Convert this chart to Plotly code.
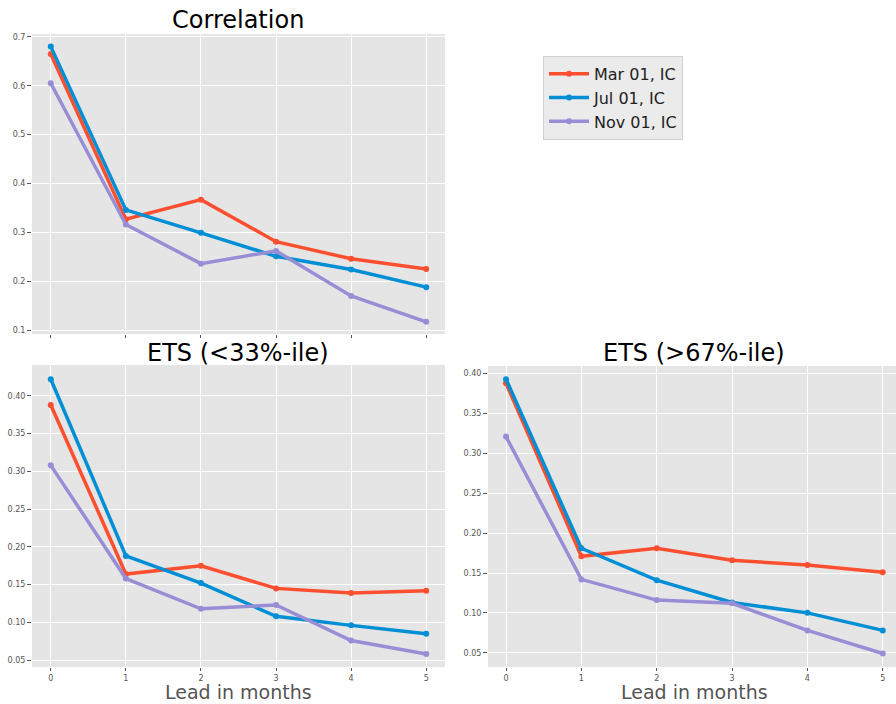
import plotly.graph_objects as go

leads = [0, 1, 2, 3, 4, 5]
series_names = ["Mar 01, IC", "Jul 01, IC", "Nov 01, IC"]
colors = ["#FC4F30", "#008FD5", "#988ED5"]

corr_mar = [0.665, 0.327, 0.367, 0.281, 0.246, 0.225]
corr_jul = [0.680, 0.346, 0.299, 0.251, 0.224, 0.188]
corr_nov = [0.605, 0.316, 0.236, 0.262, 0.170, 0.117]

ets_low_mar = [0.388, 0.164, 0.175, 0.145, 0.139, 0.142]
ets_low_jul = [0.422, 0.188, 0.152, 0.108, 0.096, 0.085]
ets_low_nov = [0.308, 0.158, 0.118, 0.123, 0.076, 0.058]

ets_high_mar = [0.388, 0.171, 0.181, 0.166, 0.160, 0.151]
ets_high_jul = [0.393, 0.181, 0.141, 0.113, 0.100, 0.078]
ets_high_nov = [0.321, 0.142, 0.116, 0.112, 0.078, 0.049]

titles = ["Correlation", "ETS (<33%-ile)", "ETS (>67%-ile)"]
xlabel = "Lead in months"

W, H = 896, 704
FONT = "DejaVu Sans"

fig = go.Figure()

panels = [
    ([corr_mar, corr_jul, corr_nov], "x", "y"),
    ([ets_low_mar, ets_low_jul, ets_low_nov], "x2", "y2"),
    ([ets_high_mar, ets_high_jul, ets_high_nov], "x3", "y3"),
]
for p, (data, xa, ya) in enumerate(panels):
    for i, vals in enumerate(data):
        fig.add_trace(go.Scatter(
            x=leads, y=vals, mode="lines+markers", name=series_names[i],
            line=dict(color=colors[i], width=3.5),
            marker=dict(color=colors[i], size=6),
            xaxis=xa, yaxis=ya, showlegend=(p == 0),
        ))

def px_x(a, b):
    return [a / W, b / W]

def px_y(top, bottom):
    return [(H - bottom) / H, (H - top) / H]

tickfont = dict(family=FONT, size=8, color="#555555")
common_x = dict(
    tickvals=leads, showgrid=True, gridcolor="white", gridwidth=1,
    zeroline=False, showline=False, ticks="outside", ticklen=3,
    tickcolor="#555555", tickfont=tickfont,
)
common_y = dict(
    showgrid=True, gridcolor="white", gridwidth=1, zeroline=False,
    showline=False, ticks="outside", ticklen=4, tickcolor="#555555",
    tickfont=tickfont,
)

fig.update_layout(
    width=W, height=H,
    margin=dict(l=0, r=0, t=0, b=0),
    paper_bgcolor="white",
    plot_bgcolor="#E5E5E5",
    font=dict(family=FONT),
    xaxis=dict(domain=px_x(32, 445), range=[-0.25, 5.25], anchor="y",
               showticklabels=False, **common_x),
    yaxis=dict(domain=px_y(33, 334), range=[0.092, 0.706], anchor="x",
               tickvals=[0.1, 0.2, 0.3, 0.4, 0.5, 0.6, 0.7],
               tickformat=".1f", **common_y),
    xaxis2=dict(domain=px_x(32, 445), range=[-0.25, 5.25], anchor="y2",
                **common_x),
    yaxis2=dict(domain=px_y(365, 668), range=[0.0407, 0.441], anchor="x2",
                tickvals=[0.05, 0.10, 0.15, 0.20, 0.25, 0.30, 0.35, 0.40],
                tickformat=".2f", **common_y),
    xaxis3=dict(domain=px_x(488, 896), range=[-0.239, 5.176], anchor="y3",
                **common_x),
    yaxis3=dict(domain=px_y(366, 668), range=[0.032, 0.4096], anchor="x3",
                tickvals=[0.05, 0.10, 0.15, 0.20, 0.25, 0.30, 0.35, 0.40],
                tickformat=".2f", **common_y),
    legend=dict(
        x=543 / W, y=(H - 55) / H, xanchor="left", yanchor="top",
        bgcolor="#EBEBEB", bordercolor="#D0D0D0", borderwidth=1,
        font=dict(family=FONT, size=16, color="#222222"),
        tracegroupgap=0, itemwidth=40,
    ),
    showlegend=True,
)

annots = [
    (titles[0], 238, 19, 24, "black"),
    (titles[1], 238, 353, 24, "black"),
    (titles[2], 694, 353, 24, "black"),
    (xlabel, 238, 693, 19, "#555555"),
    (xlabel, 694, 693, 19, "#555555"),
]
for text, cx, cy, size, col in annots:
    fig.add_annotation(
        text=text, x=cx / W, y=(H - cy) / H, xref="paper", yref="paper",
        xanchor="center", yanchor="middle", showarrow=False,
        font=dict(family=FONT, size=size, color=col),
    )

fig.write_html(
    "out.html",
    config={"displayModeBar": False},
    post_script="document.body.style.margin='0';document.body.style.overflow='hidden';",
)
